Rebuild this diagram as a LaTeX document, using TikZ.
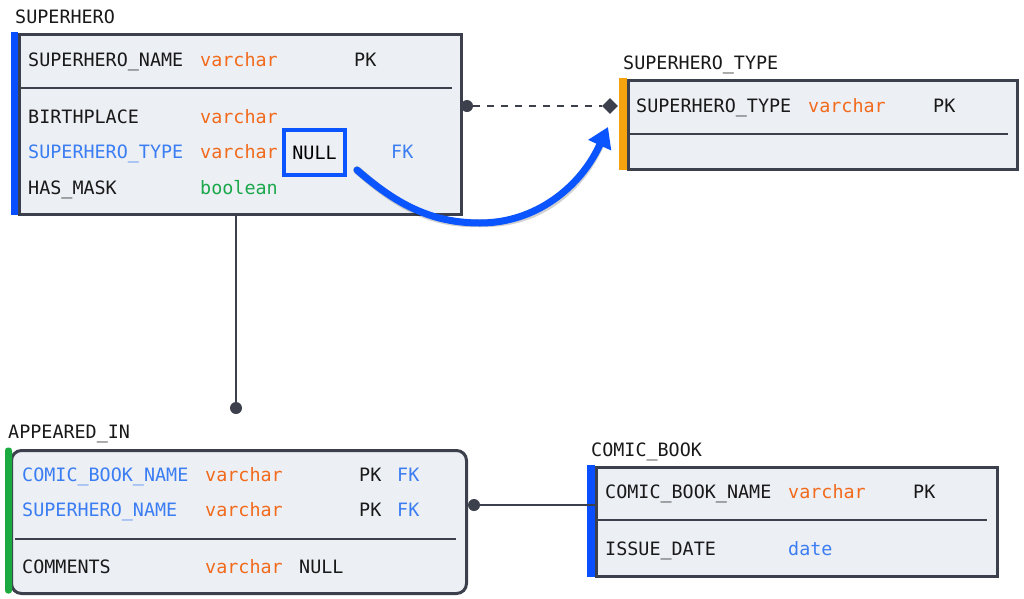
\documentclass[tikz,border=0pt]{standalone}
\usepackage{fontspec}
\setmainfont{DejaVu Sans Mono}
\usetikzlibrary{shapes.geometric,arrows.meta}
\definecolor{bd}{HTML}{3C404C}
\definecolor{fillc}{HTML}{ECEFF4}
\definecolor{orng}{HTML}{F26A1B}
\definecolor{grn}{HTML}{1BA84A}
\definecolor{blt}{HTML}{3B7DF2}
\definecolor{hb}{HTML}{0A55FF}
\definecolor{barb}{HTML}{0A4FFF}
\definecolor{baro}{HTML}{F5A30F}
\definecolor{barg}{HTML}{1BAA3F}
\begin{document}
\begin{tikzpicture}[x=1pt,y=-1pt,
  tbl/.style={draw=bd,fill=fillc,line width=3pt,anchor=north west,inner sep=0pt},
  txt/.style={anchor=west,inner sep=0pt,text height=13.4pt,text depth=0pt,font=\fontsize{18.4}{20}\selectfont,text=black!90},
  ty/.style={txt,text=orng},
  bo/.style={txt,text=grn},
  bl/.style={txt,text=blt},
  sep/.style={draw=bd,line width=1.5pt},
  conn/.style={draw=bd,line width=1.8pt},
  dotn/.style={circle,fill=bd,inner sep=0pt,minimum size=12pt},
]
\useasboundingbox (0,0) rectangle (1024,598);
\fill[white] (0,0) rectangle (1024,598);

% SUPERHERO
\node[txt] (t1) at (15,17) {SUPERHERO};
\node[tbl,minimum width=442pt,minimum height=180pt] (sh) at (18,33) {};
\fill[barb] (11,31.5) rectangle (18,214.5);
\draw[sep] (21,88) -- (452,88);
\node[txt] (a1) at (28,60) {SUPERHERO\_NAME};
\node[ty] (a2) at (200,60) {varchar};
\node[txt] (a3) at (354,60) {PK};
\node[txt] (b1) at (28,117) {BIRTHPLACE};
\node[ty] (b2) at (200,117) {varchar};
\node[bl] (c1) at (28,152) {SUPERHERO\_TYPE};
\node[ty] (c2) at (200,152) {varchar};
\node[draw=hb,line width=4pt,minimum width=61pt,minimum height=45pt,inner sep=0pt,font=\fontsize{18.4}{20}\selectfont,text height=13.4pt,text depth=0pt] (nullbox) at (314.5,152.5) {NULL};
\node[bl] (c4) at (391,152) {FK};
\node[txt] (d1) at (28,188) {HAS\_MASK};
\node[bo] (d2) at (200,188) {boolean};

% SUPERHERO_TYPE
\node[txt] (t2) at (623,63) {SUPERHERO\_TYPE};
\node[tbl,minimum width=389pt,minimum height=89pt] (st) at (627,79) {};
\fill[baro] (619,77.5) rectangle (627,169.5);
\draw[sep] (630,134) -- (1008,134);
\node[txt] (e1) at (636,106) {SUPERHERO\_TYPE};
\node[ty] (e2) at (808,106) {varchar};
\node[txt] (e3) at (933,106) {PK};

% dashed relation
\node[dotn] (dA) at (467,106) {};
\node[diamond,fill=bd,inner sep=0pt,minimum width=16pt,minimum height=16pt] (dB) at (610,106) {};
\draw[conn,dash pattern=on 7pt off 7pt] (dA) -- (dB);

% blue curved arrow
\coordinate (cs) at (357,170);
\coordinate (cm) at (480,223);
\coordinate (ce) at (608,127);
\draw[black,opacity=0.18,line width=8pt,line cap=round,shift={(1.5pt,-2pt)}] (cs) .. controls (395,203) and (430,223) .. (cm) .. controls (535,223) and (578,190) .. (600,140);
\draw[hb,line width=7pt,line cap=round,-{Triangle[length=20pt,width=24pt]}] (cs) .. controls (395,203) and (430,223) .. (cm) .. controls (535,223) and (580,188) .. (ce);

% vertical relation
\node[dotn] (dC) at (236,408) {};
\draw[conn] (sh.south -| dC) -- (dC);

% APPEARED_IN
\node[txt] (t3) at (8,432) {APPEARED\_IN};
\node[tbl,rounded corners=10pt,minimum width=455pt,minimum height=143pt] (ai) at (10,449) {};
\fill[barg,rounded corners=3pt] (5,447.5) rectangle (12,593.5);
\draw[sep] (15,539) -- (456,539);
\node[bl] (f1) at (22,475) {COMIC\_BOOK\_NAME};
\node[ty] (f2) at (205,475) {varchar};
\node[txt] (f3) at (359,475) {PK};
\node[bl] (f4) at (397,475) {FK};
\node[bl] (g1) at (22,510) {SUPERHERO\_NAME};
\node[ty] (g2) at (205,510) {varchar};
\node[txt] (g3) at (359,510) {PK};
\node[bl] (g4) at (397,510) {FK};
\node[txt] (h1) at (22,567) {COMMENTS};
\node[ty] (h2) at (205,567) {varchar};
\node[txt] (h3) at (299,567) {NULL};

% COMIC_BOOK
\node[txt] (t4) at (591,450) {COMIC\_BOOK};
\node[tbl,minimum width=401pt,minimum height=109pt] (cb) at (595,466) {};
\fill[barb] (587,464.5) rectangle (595,576.5);
\draw[sep] (598,520) -- (987,520);
\node[txt] (i1) at (605,492) {COMIC\_BOOK\_NAME};
\node[ty] (i2) at (788,492) {varchar};
\node[txt] (i3) at (913,492) {PK};
\node[txt] (j1) at (605,549) {ISSUE\_DATE};
\node[bl] (j2) at (788,549) {date};

% horizontal relation
\node[dotn] (dD) at (474,505) {};
\draw[conn] (dD) -- (dD -| cb.west);
\end{tikzpicture}
\end{document}
